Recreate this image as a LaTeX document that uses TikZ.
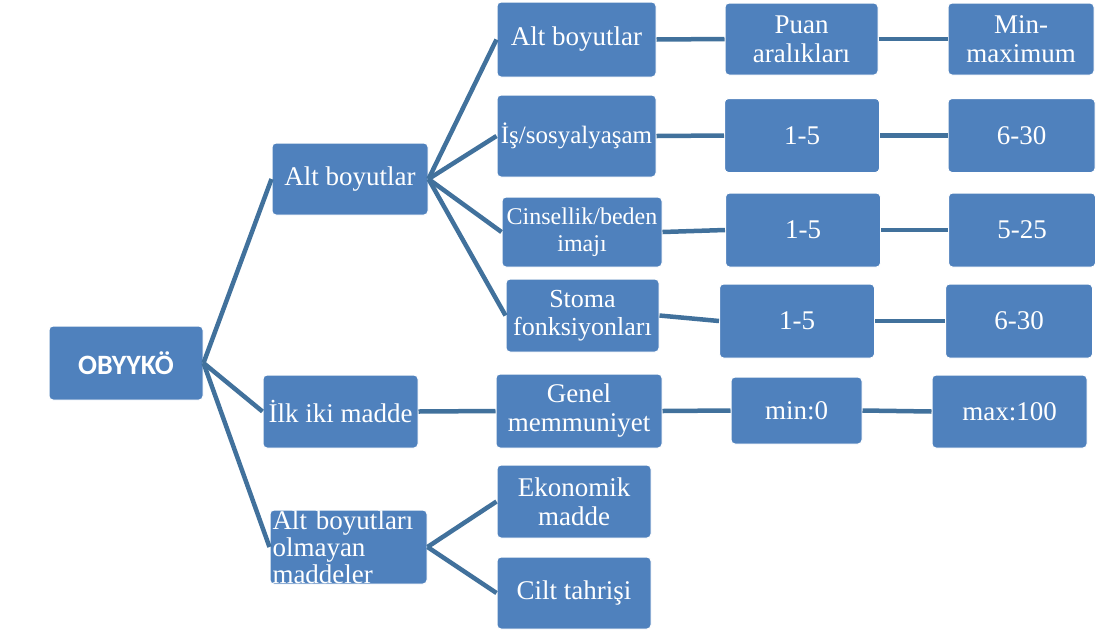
\documentclass[tikz,border=0pt]{standalone}
\usepackage{fontspec}
\setmainfont{Liberation Serif}
\newfontfamily\rootfont{Carlito}
\definecolor{boxblue}{HTML}{4F81BD}
\definecolor{linkblue}{HTML}{41719C}
\tikzset{
	box/.style={fill=boxblue, draw=white, line width=1pt, rounded corners=4pt, text=white, align=center, inner sep=1pt, font=\fontsize{27}{29}\selectfont},
	boxsize/.style 2 args={minimum width=#1pt, minimum height=#2pt},
	link/.style={draw=linkblue, line width=4.5pt},
}
\begin{document}
\begin{tikzpicture}[x=1pt,y=-1pt]
		\useasboundingbox (0,0) rectangle (1096,633);

		\node[box, boxsize={154}{74}, font=\rootfont\bfseries\fontsize{28}{30}\selectfont] (obyyko) at (126,363) {OBYYKÖ};

		%level 1
		\node[box, boxsize={156}{72}] (altb) at (350,179) {Alt boyutlar};
		\node[box, boxsize={155}{73}] (ilk) at (340.5,411.5) {İlk iki madde};
		\node[box, boxsize={157}{74}, align=left, text width=152pt, inner ysep=-3pt, font=\fontsize{27}{27}\selectfont] (olm) at (348.5,547) {Alt boyutları\\olmayan\\maddeler};

		%level 2
		\node[box, boxsize={159}{75}] (sub0) at (576.5,39.5) {Alt boyutlar};
		\node[box, boxsize={159}{82}, font=\fontsize{25}{28}\selectfont] (sub1) at (576.5,136) {İş/sosyalyaşam};
		\node[box, boxsize={160}{70}, font=\fontsize{24}{27}\selectfont] (sub2) at (582,232) {Cinsellik/beden\\imajı};
		\node[box, boxsize={153}{73}, font=\fontsize{26}{28}\selectfont] (sub3) at (582.5,315.5) {Stoma\\fonksiyonları};
		\node[box, boxsize={166}{74}] (gen) at (579,411) {Genel\\memmuniyet};
		\node[box, boxsize={154}{73}] (eko) at (574,501.5) {Ekonomik\\madde};
		\node[box, boxsize={154}{72}] (cilt) at (574,593) {Cilt tahrişi};

		%level 3
		\node[box, boxsize={153}{72}] (pa0) at (801.5,39) {Puan\\aralıkları};
		\foreach \n/\x/\y in {pa1/802/135.5, pa2/803/230, pa3/797/321}{
			\node[box, boxsize={155}{74}] (\n) at (\x,\y) {1-5};
		}
		\node[box, boxsize={131}{67}] (mn) at (796.5,410.5) {min:0};

		%level 4
		\node[box, boxsize={146}{72}] (mx0) at (1021,39) {Min-\\maximum};
		\foreach \n/\x/\y/\t in {mx1/1021.5/135.5/6-30, mx2/1022/230/5-25, mx3/1019/321/6-30}{
			\node[box, boxsize={147}{74}] (\n) at (\x,\y) {\t};
		}
		\node[box, boxsize={155}{73}] (mx) at (1009.5,411.5) {max:100};

		%links
		\foreach \c in {altb,ilk,olm}{
			\draw[link] (obyyko.east) -- (\c.west);
		}
		\foreach \c in {sub0,sub1,sub2,sub3}{
			\draw[link] (altb.east) -- (\c.west);
		}
		\draw[link] (ilk.east) -- (gen.west);
		\draw[link] (olm.east) -- (eko.west);
		\draw[link] (olm.east) -- (cilt.west);
		\foreach \a/\b in {sub0/pa0, sub1/pa1, sub2/pa2, sub3/pa3, gen/mn, pa0/mx0, pa1/mx1, pa2/mx2, pa3/mx3, mn/mx}{
			\draw[link] (\a.east) -- (\b.west);
		}

	\end{tikzpicture}
\end{document}
